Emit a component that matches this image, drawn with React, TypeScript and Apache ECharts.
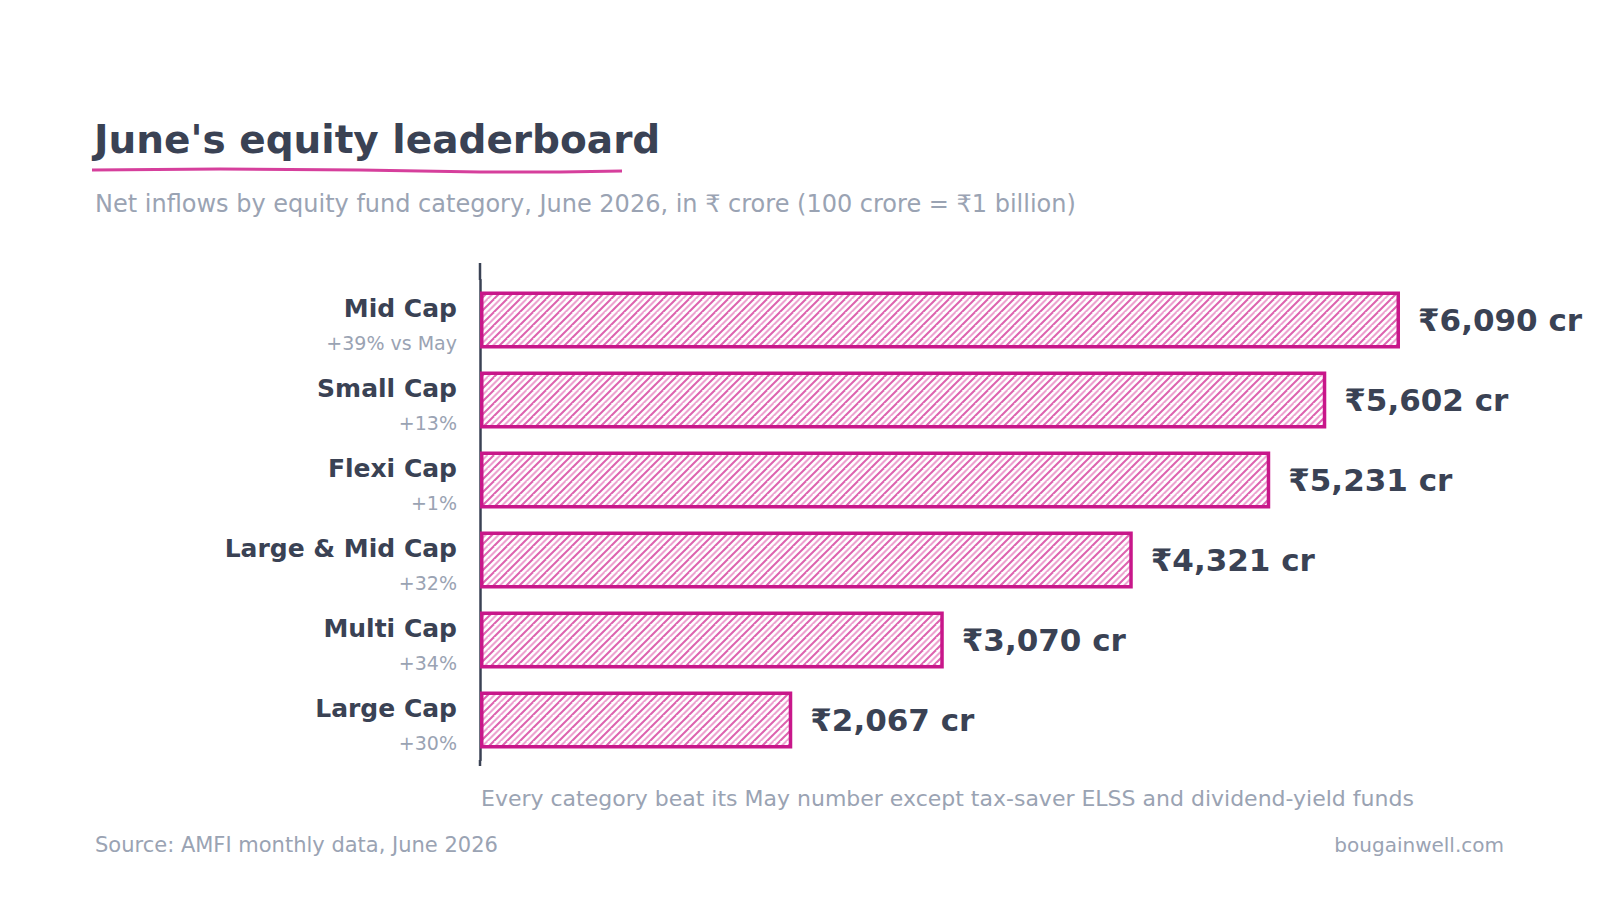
import React, { useEffect, useRef } from "react";
import * as echarts from "echarts";

const categories = ["Mid Cap", "Small Cap", "Flexi Cap", "Large & Mid Cap", "Multi Cap", "Large Cap"];
const inflows = [6090, 5602, 5231, 4321, 3070, 2067];
const changeVsMay = ["+39% vs May", "+13%", "+1%", "+32%", "+34%", "+30%"];

const TITLE = "June's equity leaderboard";
const SUBTITLE = "Net inflows by equity fund category, June 2026, in ₹ crore (100 crore = ₹1 billion)";
const NOTE = "Every category beat its May number except tax-saver ELSS and dividend-yield funds";
const SOURCE = "Source: AMFI monthly data, June 2026";
const CREDIT = "bougainwell.com";

const FONT = "'DejaVu Sans', 'Noto Sans', sans-serif";
const DARK = "#3a4254";
const GRAY = "#9aa3b3";
const PINK = "#c8178a";

function makeHatch() {
  const s = 13;
  const c = document.createElement("canvas");
  c.width = s;
  c.height = s;
  const ctx = c.getContext("2d")!;
  ctx.fillStyle = "#ffffff";
  ctx.fillRect(0, 0, s, s);
  ctx.lineWidth = 2;
  const drawLine = (k: number, color: string) => {
    ctx.strokeStyle = color;
    ctx.beginPath();
    ctx.moveTo(k - s, 2 * s);
    ctx.lineTo(k + s, 0);
    ctx.stroke();
  };
  for (const off of [-s, 0, s, 2 * s]) {
    drawLine(off, "rgba(214,70,160,0.85)");
    drawLine(off + s / 2, "rgba(230,125,190,0.7)");
  }
  return c;
}

export default function App() {
  const ref = useRef<HTMLDivElement>(null);
  useEffect(() => {
    if (!ref.current) return;
    const chart = echarts.init(ref.current, null, { renderer: "svg" });
    const hatch = makeHatch();
    chart.setOption({
      animation: false,
      backgroundColor: "#ffffff",
      textStyle: { fontFamily: FONT },
      grid: { left: 480, width: 920, top: 280, height: 480, containLabel: false },
      xAxis: { type: "value", min: 0, max: "dataMax", show: false },
      yAxis: {
        type: "category",
        inverse: true,
        data: categories,
        axisTick: { show: false },
        axisLine: { show: true, lineStyle: { color: DARK, width: 2.5 } },
        axisLabel: {
          margin: 23,
          align: "right",
          padding: [12, 0, 0, 0],
          formatter: (v: string, i: number) => `{name|${v}}\n{sub|${changeVsMay[i]}}`,
          rich: {
            name: { fontFamily: FONT, fontSize: 25, fontWeight: 600, color: DARK, lineHeight: 34, align: "right" },
            sub: { fontFamily: FONT, fontSize: 19, color: GRAY, lineHeight: 36, align: "right" },
          },
        },
      },
      series: [
        {
          type: "bar",
          data: inflows,
          barWidth: 57,
          itemStyle: {
            color: { image: hatch, repeat: "repeat", imageWidth: 13, imageHeight: 13 },
            borderColor: PINK,
            borderWidth: 3.5,
          },
          label: {
            show: true,
            position: "right",
            distance: 18,
            fontFamily: FONT,
            fontSize: 31,
            fontWeight: 700,
            color: DARK,
            formatter: (p: any) => `₹${Number(p.value).toLocaleString("en-US")} cr`,
          },
        },
      ],
      graphic: [
        {
          type: "text",
          x: 94,
          y: 139,
          style: { text: TITLE, font: `bold 39px ${FONT}`, fill: DARK, verticalAlign: "middle" },
        },
        {
          type: "polyline",
          shape: { points: [[92, 170], [220, 169], [360, 170], [480, 172], [560, 172], [622, 171]] },
          style: { stroke: "#d63f9c", lineWidth: 3, fill: "none" },
        },
        {
          type: "text",
          x: 95,
          y: 204,
          style: { text: SUBTITLE, font: `24px ${FONT}`, fill: GRAY, verticalAlign: "middle" },
        },
        {
          type: "line",
          shape: { x1: 480, y1: 263, x2: 480, y2: 280 },
          style: { stroke: DARK, lineWidth: 2.5 },
        },
        {
          type: "line",
          shape: { x1: 480, y1: 760, x2: 480, y2: 766 },
          style: { stroke: DARK, lineWidth: 2.5 },
        },
        {
          type: "text",
          x: 481,
          y: 798,
          style: { text: NOTE, font: `22px ${FONT}`, fill: GRAY, verticalAlign: "middle" },
        },
        {
          type: "text",
          x: 95,
          y: 845,
          style: { text: SOURCE, font: `21px ${FONT}`, fill: GRAY, verticalAlign: "middle" },
        },
        {
          type: "text",
          x: 1504,
          y: 845,
          style: { text: CREDIT, font: `20px ${FONT}`, fill: GRAY, align: "right", verticalAlign: "middle" },
        },
      ],
    });
    return () => chart.dispose();
  }, []);
  return (
    <div
      ref={ref}
      style={{ position: "fixed", left: 0, top: 0, width: 1600, height: 900, background: "#ffffff" }}
    />
  );
}
